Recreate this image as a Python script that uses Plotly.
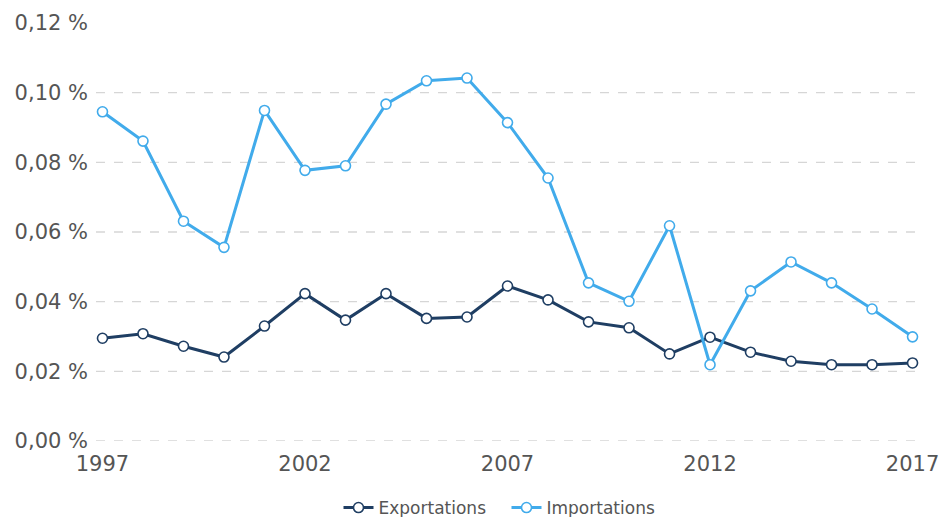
import plotly.graph_objects as go

years = list(range(1997, 2018))
exportations = [0.0295, 0.0308, 0.0272, 0.0241, 0.0330, 0.0423, 0.0347, 0.0423, 0.0352, 0.0356,
                0.0445, 0.0405, 0.0342, 0.0325, 0.0250, 0.0298, 0.0255, 0.0229, 0.0219, 0.0219, 0.0224]
importations = [0.0945, 0.0861, 0.0631, 0.0556, 0.0949, 0.0777, 0.0790, 0.0967, 0.1034, 0.1042,
                0.0914, 0.0755, 0.0454, 0.0401, 0.0618, 0.0219, 0.0431, 0.0514, 0.0454, 0.0379, 0.0299]
y_ticks = [0.0, 0.02, 0.04, 0.06, 0.08, 0.10, 0.12]
y_tick_labels = ["0,00 %", "0,02 %", "0,04 %", "0,06 %", "0,08 %", "0,10 %", "0,12 %"]
grid_values = [0.0, 0.02, 0.04, 0.06, 0.08, 0.10]
x_ticks = [1997, 2002, 2007, 2012, 2017]

navy = "#1f3e63"
sky = "#41abeb"

fig = go.Figure()
for name, vals, col in [("Exportations", exportations, navy), ("Importations", importations, sky)]:
    fig.add_trace(go.Scatter(
        x=years, y=vals, name=name, mode="lines+markers",
        line=dict(color=col, width=3),
        marker=dict(size=10, color="white", line=dict(color=col, width=1.6)),
        cliponaxis=False,
    ))

for g in grid_values:
    fig.add_shape(type="line", xref="paper", x0=0, x1=1, yref="y", y0=g, y1=g,
                  line=dict(color="#d6d6d6", width=1.3, dash="dash"), layer="below")

fig.update_layout(
    width=939, height=517,
    margin=dict(l=96, r=22, t=23, b=76, autoexpand=False),
    paper_bgcolor="white", plot_bgcolor="white",
    font=dict(family="DejaVu Sans, Verdana, sans-serif", color="#555555", size=21),
    showlegend=True,
    legend=dict(orientation="h", x=0.5, xanchor="center", xref="paper",
                y=0.0174, yanchor="middle", yref="container",
                font=dict(size=17, color="#555555"), itemwidth=30, tracegroupgap=0,
                entrywidth=123, entrywidthmode="pixels"),
    xaxis=dict(range=[1996.84, 2017.11], tickvals=x_ticks, ticktext=[str(v) for v in x_ticks],
               showgrid=False, zeroline=False, showline=False, ticks="", automargin=False,
               ticklabeloverflow="allow",
               tickfont=dict(size=21, color="#555555"), ticklabelstandoff=8),
    yaxis=dict(range=[0, 0.12], tickvals=y_ticks, ticktext=y_tick_labels,
               showgrid=False, zeroline=False, showline=False, ticks="", automargin=False,
               tickfont=dict(size=21, color="#555555"), ticklabelstandoff=7),
)

fig.write_html("out.html",
               config={"displayModeBar": False},
               post_script="document.body.style.margin='0';document.body.style.overflow='hidden';")
